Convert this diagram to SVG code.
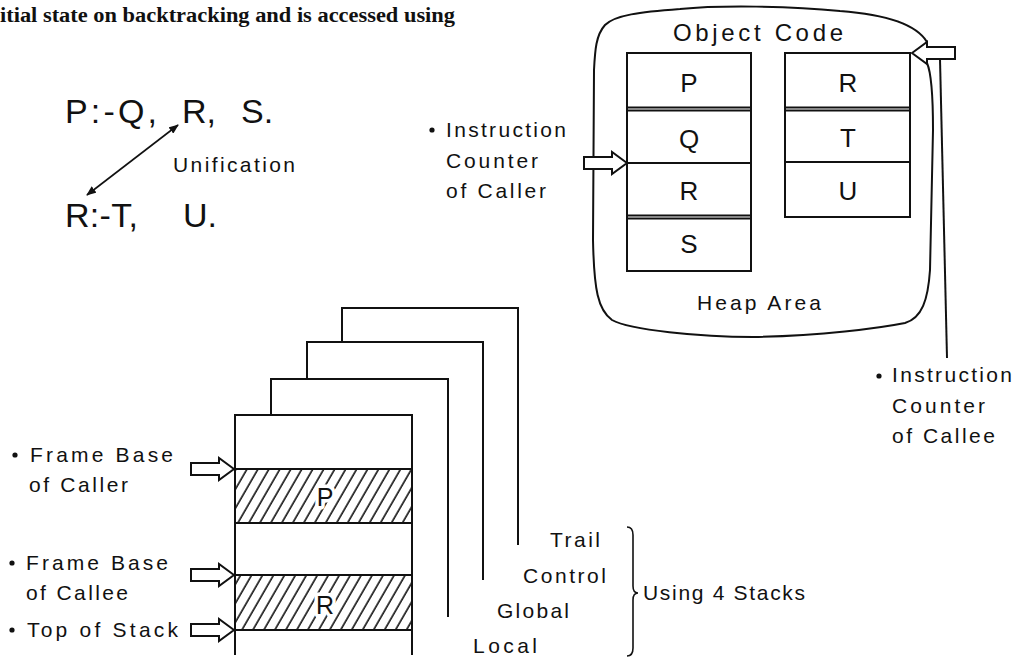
<svg xmlns="http://www.w3.org/2000/svg" width="1014" height="657" viewBox="0 0 1014 657">
<style>
text{font-family:"Liberation Sans",Arial,sans-serif;fill:#111}
.lbl{font-size:21px}
.big{font-size:34px}
.cell{font-size:26px;text-anchor:middle}
.ln{fill:none;stroke:#111;stroke-width:2}
.thin{fill:none;stroke:#111;stroke-width:1.6}
.arr{fill:#fff;stroke:#111;stroke-width:2;stroke-linejoin:miter}
.halo{font-size:25px;text-anchor:middle;stroke:#fff;stroke-width:7;paint-order:stroke;stroke-linejoin:round}
.serif{font-family:"Liberation Serif","Times New Roman",serif;font-weight:bold;font-size:20px}
</style>
<defs>
<pattern id="hatch" patternUnits="userSpaceOnUse" width="9.5" height="20" patternTransform="rotate(30)">
<line x1="2" y1="-2" x2="2" y2="22" stroke="#111" stroke-width="1.6"/>
</pattern>
<path id="blockArrow" d="M0,0 L-15,-11 L-15,-6 L-43,-6 L-43,6 L-15,6 L-15,11 Z"/>
<marker id="head" viewBox="0 0 10 8" refX="9" refY="4" markerWidth="10" markerHeight="8" markerUnits="userSpaceOnUse" orient="auto-start-reverse">
<path d="M0,0 L10,4 L0,8 Z" fill="#111"/>
</marker>
</defs>
<rect width="1014" height="657" fill="#fff"/>

<text class="serif" x="0" y="22" textLength="455" lengthAdjust="spacingAndGlyphs">itial state on backtracking and is accessed using</text>

<g id="clauses">
<text class="big" x="65" y="123" textLength="92" lengthAdjust="spacing">P:-Q,</text>
<text class="big" x="182" y="123">R,</text>
<text class="big" x="241" y="123">S.</text>
<text class="big" x="65" y="227" textLength="73" lengthAdjust="spacing">R:-T,</text>
<text class="big" x="183" y="227">U.</text>
<text class="lbl" x="173" y="172" font-size="22" textLength="122" lengthAdjust="spacing">Unification</text>
</g>

<g id="heap-area">
<path class="ln" d="M927,42 C915,22 880,14 840,11 C790,6 720,5 680,9 C640,12 615,15 605,25 C596,35 595,50 594,70 L593,240 C594,290 598,310 612,320 C630,330 700,337 753,337 C820,336 880,328 905,323 C922,318 928,300 930,270 L933,130 C933,90 931,72 927,63"/>
<text x="758" y="41" font-size="24" text-anchor="middle" textLength="170" lengthAdjust="spacing">Object Code</text>
<text class="lbl" x="697" y="310" textLength="124" lengthAdjust="spacing">Heap Area</text>
</g>

<g id="caller-code">
<rect class="ln" x="627" y="53" width="124" height="218"/>
<line class="ln" x1="627" y1="107.5" x2="751" y2="107.5"/>
<line class="ln" x1="627" y1="110.5" x2="751" y2="110.5"/>
<line class="ln" x1="627" y1="163" x2="751" y2="163"/>
<line class="ln" x1="627" y1="215.5" x2="751" y2="215.5"/>
<line class="ln" x1="627" y1="218.5" x2="751" y2="218.5"/>
<text class="cell" x="689" y="92">P</text>
<text class="cell" x="689" y="148">Q</text>
<text class="cell" x="689" y="200">R</text>
<text class="cell" x="689" y="253">S</text>
</g>

<g id="callee-code">
<rect class="ln" x="785" y="53" width="125" height="164"/>
<line class="ln" x1="785" y1="107.5" x2="910" y2="107.5"/>
<line class="ln" x1="785" y1="110.5" x2="910" y2="110.5"/>
<line class="ln" x1="785" y1="162" x2="910" y2="162"/>
<text class="cell" x="848" y="92">R</text>
<text class="cell" x="848" y="147">T</text>
<text class="cell" x="848" y="200">U</text>
</g>

<g id="label-ic-caller">
<circle cx="432" cy="130" r="2.6" fill="#111"/>
<text class="lbl" x="446" y="137" textLength="120" lengthAdjust="spacing">Instruction</text>
<text class="lbl" x="446" y="168" textLength="92" lengthAdjust="spacing">Counter</text>
<text class="lbl" x="446" y="198" textLength="100" lengthAdjust="spacing">of Caller</text>
</g>

<g id="label-ic-callee">
<circle cx="879" cy="376" r="2.6" fill="#111"/>
<text class="lbl" x="892" y="382" textLength="120" lengthAdjust="spacing">Instruction</text>
<text class="lbl" x="892" y="413" textLength="93" lengthAdjust="spacing">Counter</text>
<text class="lbl" x="892" y="443" textLength="103" lengthAdjust="spacing">of Callee</text>
</g>

<g id="stack-trail">
<path class="ln" d="M342,342 L342,308 L518,308 L518,545"/>
</g>
<g id="stack-control">
<path class="ln" d="M307,379 L307,342 L483,342 L483,580"/>
</g>
<g id="stack-global">
<path class="ln" d="M271,415 L271,379 L448,379 L448,617"/>
</g>
<g id="stack-local">
<rect x="235" y="469" width="177" height="54" fill="url(#hatch)"/>
<rect x="235" y="575" width="177" height="55" fill="url(#hatch)"/>
<path class="ln" d="M235,655 L235,415 L412,415 L412,655"/>
<line class="ln" x1="235" y1="469" x2="412" y2="469"/>
<line class="ln" x1="235" y1="523" x2="412" y2="523"/>
<line class="ln" x1="235" y1="575" x2="412" y2="575"/>
<line class="ln" x1="235" y1="630" x2="412" y2="630"/>
<text class="halo" x="325" y="506">P</text>
<text class="halo" x="325" y="614">R</text>
</g>

<g id="stack-names">
<text class="lbl" x="550" y="547" textLength="50" lengthAdjust="spacing">Trail</text>
<text class="lbl" x="523" y="583" textLength="83" lengthAdjust="spacing">Control</text>
<text class="lbl" x="497" y="618" textLength="72" lengthAdjust="spacing">Global</text>
<text class="lbl" x="473" y="653" textLength="64" lengthAdjust="spacing">Local</text>
<text class="lbl" x="643" y="600" textLength="162" lengthAdjust="spacing">Using 4 Stacks</text>
</g>

<g id="stack-labels">
<circle cx="15" cy="455" r="2.6" fill="#111"/>
<text class="lbl" x="30" y="462" textLength="143" lengthAdjust="spacing">Frame Base</text>
<text class="lbl" x="29" y="492" textLength="99" lengthAdjust="spacing">of Caller</text>
<circle cx="12" cy="563" r="2.6" fill="#111"/>
<text class="lbl" x="26" y="570" textLength="142" lengthAdjust="spacing">Frame Base</text>
<text class="lbl" x="26" y="600" textLength="102" lengthAdjust="spacing">of Callee</text>
<circle cx="12" cy="630" r="2.6" fill="#111"/>
<text class="lbl" x="27" y="637" textLength="151" lengthAdjust="spacing">Top of Stack</text>
</g>

<g id="connectors">
<line class="thin" x1="87" y1="195" x2="178" y2="125" marker-start="url(#head)" marker-end="url(#head)"/>
<use href="#blockArrow" class="arr" transform="translate(627,163)"/>
<use href="#blockArrow" class="arr" transform="translate(912,53) scale(-1,1)"/>
<line class="ln" x1="940" y1="59" x2="947" y2="358"/>
<use href="#blockArrow" class="arr" transform="translate(234,469)"/>
<use href="#blockArrow" class="arr" transform="translate(234,575)"/>
<use href="#blockArrow" class="arr" transform="translate(234,630)"/>
<path class="thin" d="M627,527 Q633,527 633,535 L633,586 Q633,593 638,593 Q633,593 633,600 L633,648 Q633,656 627,656"/>
</g>
</svg>
